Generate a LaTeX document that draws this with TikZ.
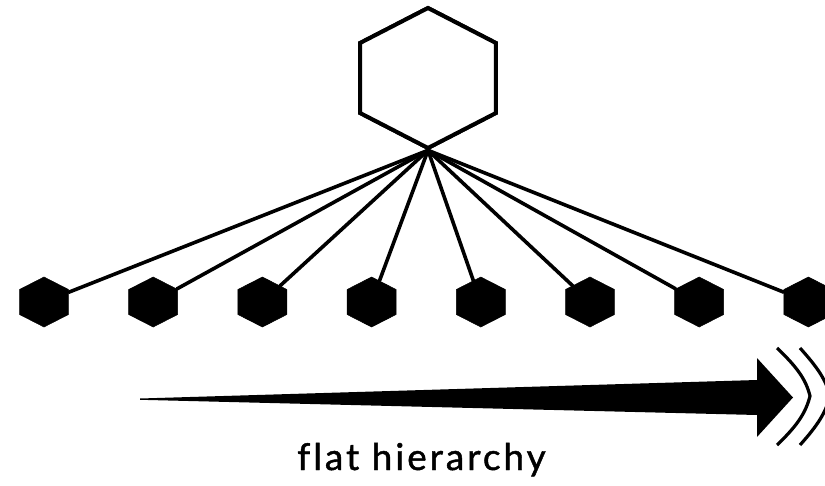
\documentclass[tikz,border=0pt]{standalone}
\usepackage{fontspec}
\setmainfont{Lato}
\newfontfamily\labelfont[LetterSpace=8,FakeBold=1.2,Ligatures=NoCommon]{Lato}
\usetikzlibrary{shapes.geometric}
\begin{document}
\begin{tikzpicture}[x=1pt,y=-1pt,
  smallhex/.style={regular polygon, regular polygon sides=6, regular polygon rotate=30,
    minimum size=50pt, inner sep=0pt, fill=black, draw=black, line width=0.5pt,
    xscale=1.13, transform shape},
  bighex/.style={regular polygon, regular polygon sides=6, regular polygon rotate=30,
    minimum size=140pt, inner sep=0pt, fill=white, draw=black, line width=4pt,
    xscale=1.12, transform shape},
  spoke/.style={draw=black, line width=3.6pt, line cap=round},
  chev/.style={draw=black, line width=3.2pt},
  label/.style={font=\labelfont\fontsize{37}{44}\selectfont, anchor=base, inner sep=0pt}]
\useasboundingbox (0,0) rectangle (825,485);
\fill[white] (0,0) rectangle (825,485);
% small hexagons
\foreach \i in {1,...,8}{
  \node[smallhex] (h\i) at ({44+109.2*(\i-1)},302) {};
}
% big hexagon
\node[bighex] (big) at (428,78) {};
\coordinate (hub) at (big.-90);
% spokes
\foreach \i in {1,...,8}{
  \draw[spoke] (hub) -- (h\i);
}
\node[bighex] at (428,78) {};
% tapering arrow
\fill[black] (140,398.5) -- (757,380) -- (757,358) -- (793,397.5) -- (757,437) -- (757,415) -- (140,399.8) -- cycle;
% chevrons
\draw[chev] (777,348) .. controls (798,368) and (806,380) .. (810,396)
            .. controls (806,412) and (798,425) .. (777,445);
\draw[chev] (800,348) .. controls (818,368) and (826,380) .. (830,396)
            .. controls (826,412) and (818,425) .. (800,445);
% label
\node[label] (lbl) at (421.5,470) {flat hierarchy};
\end{tikzpicture}
\end{document}
